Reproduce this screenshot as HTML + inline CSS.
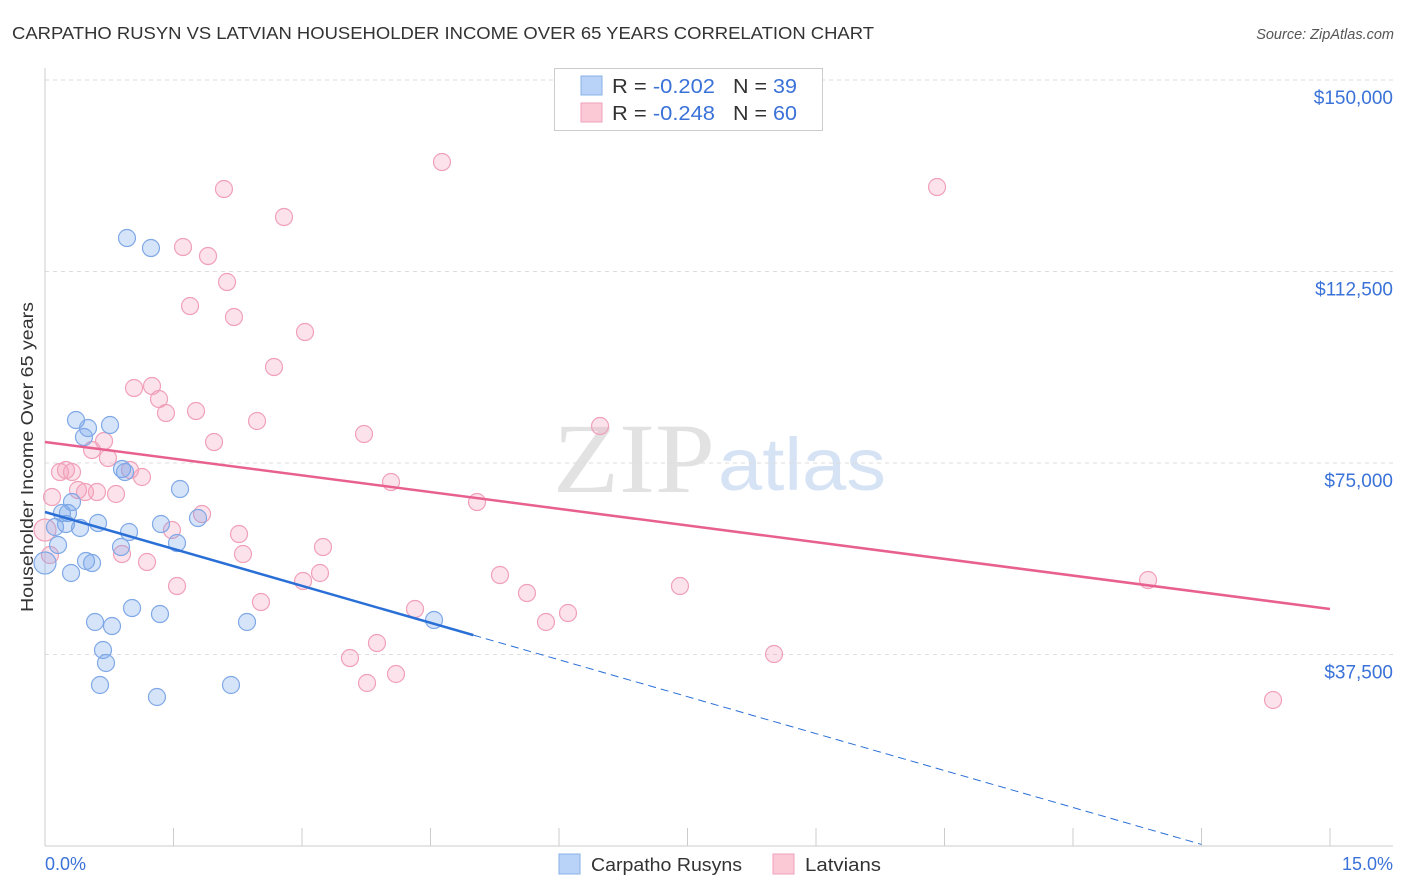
<!DOCTYPE html>
<html><head><meta charset="utf-8"><style>
body{margin:0;background:#fff;font-family:"Liberation Sans",sans-serif;}
svg{display:block}
</style></head><body>
<svg id="chart" width="1406" height="892" viewBox="0 0 1406 892">
<text x="12" y="39" font-size="17.5" fill="#333" textLength="862" lengthAdjust="spacingAndGlyphs">CARPATHO RUSYN VS LATVIAN HOUSEHOLDER INCOME OVER 65 YEARS CORRELATION CHART</text>
<text x="1394" y="39" font-size="14.5" fill="#555" font-style="italic" text-anchor="end">Source: ZipAtlas.com</text>
<text x="553" y="492" font-size="100" font-family="Liberation Serif,serif" fill="#e2e2e2" textLength="162" lengthAdjust="spacingAndGlyphs">ZIP</text>
<text x="718" y="490" font-size="74" fill="#d6e3f5" textLength="168" lengthAdjust="spacingAndGlyphs">atlas</text>
<g id="grid"></g>
<line x1="45" y1="68" x2="45" y2="846" stroke="#ccc"/>
<line x1="45" y1="846" x2="1393" y2="846" stroke="#ccc"/>
<g id="ticks"></g>
<text transform="translate(33,457) rotate(-90)" font-size="17.5" fill="#333" text-anchor="middle" textLength="310" lengthAdjust="spacingAndGlyphs">Householder Income Over 65 years</text>
<text x="45" y="870" font-size="18" fill="#3a72d8">0.0%</text>
<text x="1393" y="870" font-size="18" fill="#3a72d8" text-anchor="end">15.0%</text>
<g id="points"></g>
<g id="lines"></g>
<g>
<rect x="554.5" y="68.5" width="268" height="62" fill="#fff" stroke="#ccc"/>
<rect x="581" y="76" width="21" height="19" fill="#b8d3f7" stroke="#8ab0e8"/>
<rect x="581" y="103" width="21" height="19" fill="#fbc8d6" stroke="#f0a0b8"/>
<text x="612" y="93" font-size="20" fill="#333" textLength="103" lengthAdjust="spacingAndGlyphs">R = <tspan fill="#3a72d8">-0.202</tspan></text>
<text x="733" y="93" font-size="20" fill="#333" textLength="64" lengthAdjust="spacingAndGlyphs">N = <tspan fill="#3a72d8">39</tspan></text>
<text x="612" y="120" font-size="20" fill="#333" textLength="103" lengthAdjust="spacingAndGlyphs">R = <tspan fill="#3a72d8">-0.248</tspan></text>
<text x="733" y="120" font-size="20" fill="#333" textLength="64" lengthAdjust="spacingAndGlyphs">N = <tspan fill="#3a72d8">60</tspan></text>
</g>
<g>
<rect x="559" y="854" width="21" height="20" fill="#b8d3f7" stroke="#8ab0e8"/>
<text x="591" y="871" font-size="18.5" fill="#333" textLength="151" lengthAdjust="spacingAndGlyphs">Carpatho Rusyns</text>
<rect x="773" y="854" width="21" height="20" fill="#fbc8d6" stroke="#f0a0b8"/>
<text x="805" y="871" font-size="18.5" fill="#333" textLength="76" lengthAdjust="spacingAndGlyphs">Latvians</text>
</g>
</svg>
<script>
const yTicks=[37500,75000,112500,150000];
const yTickLabels=["$37,500","$75,000","$112,500","$150,000"];
const xTicks=[0,1.5,3,4.5,6,7.5,9,10.5,12,13.5,15];
const blueX=[0,0.117,0.152,0.198,0.268,0.245,0.315,0.304,0.362,0.409,0.455,0.502,0.479,0.549,0.584,0.619,0.642,0.677,0.712,0.782,0.759,0.887,0.899,0.934,0.957,0.981,1.016,1.237,1.307,1.342,1.354,1.541,1.576,1.786,2.171,2.358,4.541];
const blueY=[55417,62467,58942,65208,65208,63054,67362,53459,83419,62271,80090,81853,55809,55417,43864,63250,31527,38381,35835,43080,82440,58550,73824,73237,119059,61487,46605,117100,29177,45430,63054,59333,69908,64229,31527,43864,44255];
const pinkX=[0,0.082,0.058,0.175,0.245,0.315,0.385,0.467,0.549,0.607,0.689,0.735,0.829,0.899,0.992,1.039,1.132,1.191,1.249,1.331,1.412,1.482,1.541,1.611,1.693,1.763,1.833,1.903,1.973,2.089,2.125,2.206,2.265,2.311,2.475,2.521,2.673,2.790,3.012,3.035,3.210,3.245,3.560,3.724,3.759,3.875,4.039,4.097,4.319,4.634,5.043,5.311,5.626,5.848,6.105,6.479,7.412,8.510,10.413,12.876,14.335];
const pinkY=[61879,68341,56984,73237,73628,73237,69712,69320,77545,69320,79307,75978,68929,57179,73628,89686,72258,55613,90077,87532,84790,61879,50913,117296,105743,85182,65012,115534,79111,128654,110442,103589,61096,57179,83224,47780,93798,123171,51892,100651,53459,58550,36814,80678,31919,39751,71278,33681,46409,133941,67362,53067,49542,43864,45626,82244,50913,37597,129045,52088,28590];
const blueFit=[65405,-4822];
const pinkFit=[79112,-2180];
const NS='http://www.w3.org/2000/svg';
const xs=v=>45+v/15*1285;
const ys=v=>846-v/150000*766;
function mk(tag,attrs,parent){const e=document.createElementNS(NS,tag);for(const k in attrs)e.setAttribute(k,attrs[k]);parent.appendChild(e);return e;}
const grid=document.getElementById('grid'),ticks=document.getElementById('ticks'),pts=document.getElementById('points'),lines=document.getElementById('lines');
yTicks.forEach((v,i)=>{
 const l=mk('line',{x1:45,x2:1393,y1:ys(v),y2:ys(v),stroke:'#ddd','stroke-dasharray':'4,4'},grid);
 
 
 const t=mk('text',{x:1393,y:ys(v)+24,'font-size':19,fill:'#3a72d8','text-anchor':'end'},grid);
 t.textContent=yTickLabels[i];
 
 
});
xTicks.forEach(v=>{
 const l=mk('line',{x1:xs(v),x2:xs(v),y1:828,y2:846,stroke:'#ccc'},ticks);
 
 
});
pinkX.forEach((x,i)=>{
 const c=mk('circle',{cx:xs(x),cy:ys(pinkY[i]),r:i==0?11:8.5,fill:'rgba(245,160,188,0.3)',stroke:'#f0a0b8','stroke-width':1.2},pts);
 
 
});
blueX.forEach((x,i)=>{
 const c=mk('circle',{cx:xs(x),cy:ys(blueY[i]),r:i==0?11:8.5,fill:'rgba(120,165,235,0.3)',stroke:'#7fa8e6','stroke-width':1.2},pts);
 
 
});
const pl=mk('line',{x1:xs(0),y1:ys(pinkFit[0]),x2:xs(15),y2:ys(pinkFit[0]+pinkFit[1]*15),stroke:'#e8608f','stroke-width':2.5},lines);


const bl=mk('line',{x1:xs(0),y1:ys(blueFit[0]),x2:xs(5),y2:ys(blueFit[0]+blueFit[1]*5),stroke:'#2a6fd6','stroke-width':2.5},lines);


const bd=mk('line',{x1:xs(5),y1:ys(blueFit[0]+blueFit[1]*5),x2:xs(13.5),y2:ys(blueFit[0]+blueFit[1]*13.5),stroke:'#2a6fd6','stroke-width':1,'stroke-dasharray':'8,5'},lines);


</script>
</body></html>
